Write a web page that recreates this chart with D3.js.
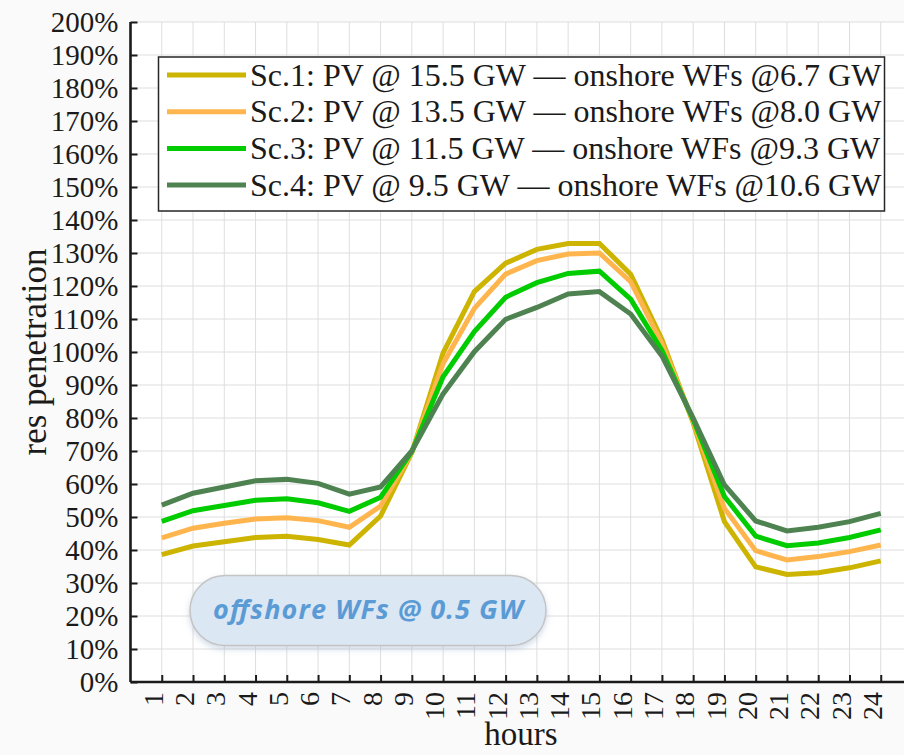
<!DOCTYPE html>
<html>
<head>
<meta charset="utf-8">
<script src="https://cdn.jsdelivr.net/npm/d3@7"></script>
<style>
  html, body { margin: 0; padding: 0; background: #fafafa; }
  svg { display: block; }
</style>
</head>
<body>
<script>
// ---- data ----
const hours = [1,2,3,4,5,6,7,8,9,10,11,12,13,14,15,16,17,18,19,20,21,22,23,24];
const yTicks = [0,10,20,30,40,50,60,70,80,90,100,110,120,130,140,150,160,170,180,190,200];
const seriesNames = [
  "Sc.1: PV @ 15.5 GW \u2014 onshore WFs @6.7 GW",
  "Sc.2: PV @ 13.5 GW \u2014 onshore WFs @8.0 GW",
  "Sc.3: PV @ 11.5 GW \u2014 onshore WFs @9.3 GW",
  "Sc.4: PV @ 9.5 GW \u2014 onshore WFs @10.6 GW"
];
const sc1 = [38.6, 41.2, 42.5, 43.8, 44.2, 43.2, 41.5, 50.3, 69.5, 99.7, 118.3, 126.9, 131.1, 132.9, 132.9, 123.6, 103.8, 78.5, 48.6, 34.9, 32.6, 33.1, 34.6, 36.7];
const sc2 = [43.7, 46.6, 48.1, 49.4, 49.8, 48.9, 46.9, 53.3, 69.6, 96.5, 113.2, 123.6, 127.7, 129.7, 130.0, 121.3, 102.6, 79.0, 52.6, 39.8, 37.0, 38.0, 39.5, 41.5];
const sc3 = [48.7, 51.9, 53.5, 55.1, 55.5, 54.3, 51.7, 56.0, 69.8, 92.5, 106.2, 116.6, 121.0, 123.8, 124.5, 116.0, 100.5, 79.5, 56.2, 44.2, 41.3, 42.1, 43.8, 46.1];
const sc4 = [53.6, 57.2, 59.1, 61.0, 61.4, 60.2, 56.9, 59.1, 70.0, 87.3, 100.1, 109.9, 113.5, 117.6, 118.3, 111.5, 98.8, 80.0, 59.7, 48.8, 45.8, 46.9, 48.6, 51.1];
const seriesValues = [sc1, sc2, sc3, sc4];
const colors = ["#ccb400", "#ffb54d", "#00cc00", "#4e8351"];
const annotation = "offshore WFs @ 0.5 GW";
const xTitle = "hours";
const yTitle = "res penetration";

// ---- layout ----
const W = 904, H = 755;
const padL = 130.5, padT = 22, padB = 682;
const x = d3.scaleLinear().domain([0, 25]).range([padL, padL + 25 * 31.26]);
const y = d3.scaleLinear().domain([0, 200]).range([padB, padT]);
const serif = "'Liberation Serif', 'Times New Roman', serif";

const svg = d3.select("body").append("svg").attr("width", W).attr("height", H);
svg.append("rect").attr("width", W).attr("height", H).attr("fill", "#fafafa");
svg.append("rect").attr("x", padL).attr("y", padT).attr("width", W - padL).attr("height", padB - padT).attr("fill", "#ffffff");

// grid
const grid = svg.append("g");
grid.selectAll("line.h").data(yTicks).join("line")
  .attr("x1", padL).attr("x2", W).attr("y1", d => y(d)).attr("y2", d => y(d))
  .attr("stroke", "#dedede").attr("stroke-width", 1);
grid.selectAll("line.v").data(hours).join("line")
  .attr("x1", d => x(d)).attr("x2", d => x(d)).attr("y1", padT).attr("y2", padB)
  .attr("stroke", "#dedede").attr("stroke-width", 1);

// lines
const line = d3.line().x((d, i) => x(hours[i])).y(d => y(d));
seriesValues.forEach((vals, k) => {
  svg.append("path").datum(vals).attr("d", line)
    .attr("fill", "none").attr("stroke", colors[k]).attr("stroke-width", 5)
    .attr("stroke-linejoin", "miter");
});

// axes
const yAxis = d3.axisLeft(y).tickValues(yTicks).tickSize(-7).tickPadding(12).tickFormat(d => d + "%");
const gy = svg.append("g").attr("transform", `translate(${padL},0)`).call(yAxis);
gy.select(".domain").attr("stroke", "#1a1a1a").attr("stroke-width", 2.6).attr("d", `M0,${padT}V${padB}`);
gy.selectAll(".tick line").attr("stroke", "#1a1a1a").attr("stroke-width", 2);
gy.selectAll(".tick text").attr("font-family", serif).attr("font-size", 29).attr("fill", "#1a1a1a")
  .attr("dy", "0.34em");

const xAxis = d3.axisBottom(x).tickValues(hours).tickSize(-7).tickFormat(d => d);
const gx = svg.append("g").attr("transform", `translate(0,${padB})`).call(xAxis);
gx.select(".domain").attr("stroke", "#1a1a1a").attr("stroke-width", 2.6).attr("d", `M${padL},0H${W}`);
gx.selectAll(".tick line").attr("stroke", "#1a1a1a").attr("stroke-width", 2);
gx.selectAll(".tick text").attr("font-family", serif).attr("font-size", 28).attr("fill", "#1a1a1a")
  .attr("text-anchor", "end").attr("transform", "rotate(-90)")
  .attr("x", -10).attr("y", 0).attr("dy", "0.02em");

// titles
svg.append("text").attr("x", 521).attr("y", 745).attr("text-anchor", "middle")
  .attr("font-family", serif).attr("font-size", 33).attr("fill", "#1a1a1a").text(xTitle);
svg.append("text").attr("transform", `translate(46,352) rotate(-90)`).attr("text-anchor", "middle")
  .attr("font-family", serif).attr("font-size", 35).attr("fill", "#1a1a1a").text(yTitle);

// legend
const lg = svg.append("g");
lg.append("rect").attr("x", 158.5).attr("y", 57).attr("width", 726).attr("height", 154)
  .attr("fill", "#ffffff").attr("stroke", "#262626").attr("stroke-width", 1.5);
seriesNames.forEach((name, k) => {
  const cy = 75 + k * 36.7;
  lg.append("line").attr("x1", 167).attr("x2", 246).attr("y1", cy).attr("y2", cy)
    .attr("stroke", colors[k]).attr("stroke-width", 5);
  lg.append("text").attr("x", 250).attr("y", cy).attr("dy", "0.33em")
    .attr("font-family", serif).attr("font-size", 32).attr("fill", "#1a1a1a").text(name);
});

// annotation
const defs = svg.append("defs");
const f = defs.append("filter").attr("id", "sh").attr("x", "-10%").attr("y", "-20%").attr("width", "120%").attr("height", "150%");
f.append("feDropShadow").attr("dx", 0).attr("dy", 3).attr("stdDeviation", 3).attr("flood-color", "#7a98c0").attr("flood-opacity", 0.35);
svg.append("rect").attr("x", 190).attr("y", 575.5).attr("width", 356).attr("height", 70).attr("rx", 35).attr("ry", 35)
  .attr("fill", "#dce7f4").attr("stroke", "#c4c4c4").attr("stroke-width", 1.5).attr("filter", "url(#sh)");
svg.append("text").attr("x", 368).attr("y", 619).attr("text-anchor", "middle")
  .attr("font-family", "'Open Sans', sans-serif").attr("font-style", "italic").attr("font-weight", "bold")
  .attr("font-size", 27).attr("textLength", 310).attr("lengthAdjust", "spacing")
  .attr("fill", "#5b9bd5").text(annotation);
</script>
</body>
</html>
